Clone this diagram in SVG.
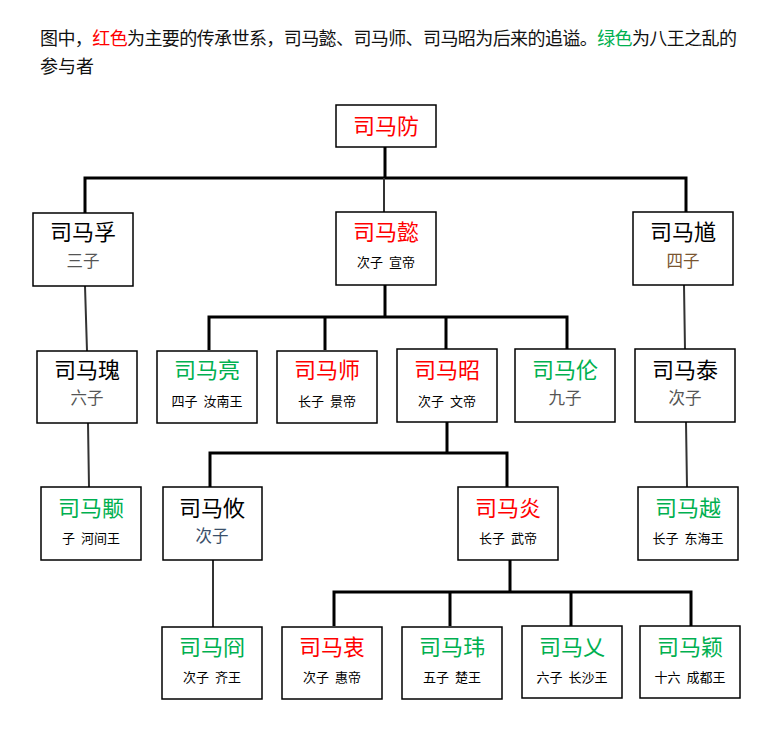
<svg xmlns="http://www.w3.org/2000/svg" width="770" height="730" viewBox="0 0 770 730">
<style>
text{font-family:"Noto Sans CJK SC","Noto Sans",sans-serif;text-anchor:middle}
.hd{font-size:18px;text-anchor:start;fill:#111}
.box{fill:#fff;stroke:#000;stroke-width:1.5}
.nm{font-size:22px}
.red{fill:#ff0000}
.grn{fill:#00b050}
.blk{fill:#000}
.sub{font-size:13px;fill:#000}
.sub2{font-size:16.5px;fill:#555}
.thick{stroke:#000;stroke-width:3;fill:none}
.thin{stroke:#333;stroke-width:2;fill:none}
</style>
<text class="hd" x="40" y="45" textLength="697" lengthAdjust="spacing">图中，<tspan class="red">红色</tspan>为主要的传承世系，司马懿、司马师、司马昭为后来的追谥。<tspan class="grn">绿色</tspan>为八王之乱的</text>
<text class="hd" x="40" y="73">参与者</text>
<g id="connectors">
<path class="thick" d="M385 147V178M85 213V178H686V212"/>
<path class="thin" d="M384 178V212"/>
<path class="thick" d="M385 285V317M209 350V317H567V350M325 317V350M446 317V350"/>
<path class="thin" d="M85 286L87 351M684 285L685 350"/>
<path class="thick" d="M447 422V453M210 487V453H507V487"/>
<path class="thin" d="M88 423L89 487M686 422L687 487"/>
<path class="thick" d="M510 560V592M334 626V592H691V626M450 592V626M571 592V626"/>
<path class="thin" d="M213 560V627"/>
</g>
<g id="n-fang"><rect class="box" x="336" y="105" width="100" height="42"/><text class="nm red" x="386" y="134">司马防</text></g>
<g id="n-fu"><rect class="box" x="33" y="213" width="100" height="73"/><text class="nm blk" x="83" y="240">司马孚</text><text class="sub2" x="83" y="267">三子</text></g>
<g id="n-yi"><rect class="box" x="336" y="212" width="100" height="73"/><text class="nm red" x="386" y="240">司马懿</text><text class="sub" x="386" y="267">次子&#160;&#160;宣帝</text></g>
<g id="n-kui"><rect class="box" x="633" y="212" width="100" height="73"/><text class="nm blk" x="683" y="240">司马馗</text><text class="sub2" x="683" y="267" style="fill:#7a5530">四子</text></g>
<g id="n-gui"><rect class="box" x="37" y="351" width="100" height="72"/><text class="nm blk" x="87" y="378">司马瑰</text><text class="sub2" x="87" y="404">六子</text></g>
<g id="n-liang"><rect class="box" x="157" y="351" width="100" height="72"/><text class="nm grn" x="207" y="378">司马亮</text><text class="sub" x="207" y="406">四子&#160;&#160;汝南王</text></g>
<g id="n-shi"><rect class="box" x="277" y="351" width="100" height="72"/><text class="nm red" x="327" y="378">司马师</text><text class="sub" x="327" y="406">长子&#160;&#160;景帝</text></g>
<g id="n-zhao"><rect class="box" x="397" y="349" width="100" height="73"/><text class="nm red" x="447" y="378">司马昭</text><text class="sub" x="447" y="406">次子&#160;&#160;文帝</text></g>
<g id="n-lun"><rect class="box" x="515" y="349" width="100" height="73"/><text class="nm grn" x="565" y="378">司马伦</text><text class="sub2" x="565" y="404">九子</text></g>
<g id="n-tai"><rect class="box" x="635" y="349" width="100" height="73"/><text class="nm blk" x="685" y="378">司马泰</text><text class="sub2" x="685" y="404">次子</text></g>
<g id="n-yong"><rect class="box" x="41" y="487" width="100" height="73"/><text class="nm grn" x="91" y="516">司马颙</text><text class="sub" x="91" y="543">子&#160;&#160;河间王</text></g>
<g id="n-you"><rect class="box" x="163" y="487" width="99" height="73"/><text class="nm blk" x="212" y="516">司马攸</text><text class="sub2" x="212" y="542" style="fill:#3a4f6a">次子</text></g>
<g id="n-yan"><rect class="box" x="458" y="487" width="100" height="73"/><text class="nm red" x="508" y="516">司马炎</text><text class="sub" x="508" y="543">长子&#160;&#160;武帝</text></g>
<g id="n-yue"><rect class="box" x="638" y="487" width="100" height="73"/><text class="nm grn" x="688" y="516">司马越</text><text class="sub" x="688" y="543">长子&#160;&#160;东海王</text></g>
<g id="n-jiong"><rect class="box" x="162" y="627" width="100" height="72"/><text class="nm grn" x="212" y="655">司马冏</text><text class="sub" x="212" y="682">次子&#160;&#160;齐王</text></g>
<g id="n-zhong"><rect class="box" x="282" y="627" width="100" height="72"/><text class="nm red" x="332" y="655">司马衷</text><text class="sub" x="332" y="682">次子&#160;&#160;惠帝</text></g>
<g id="n-wei"><rect class="box" x="402" y="627" width="100" height="72"/><text class="nm grn" x="452" y="655">司马玮</text><text class="sub" x="452" y="682">五子&#160;&#160;楚王</text></g>
<g id="n-ai"><rect class="box" x="522" y="626" width="100" height="72"/><text class="nm grn" x="572" y="655">司马乂</text><text class="sub" x="572" y="682">六子&#160;&#160;长沙王</text></g>
<g id="n-ying"><rect class="box" x="640" y="626" width="100" height="72"/><text class="nm grn" x="690" y="655">司马颖</text><text class="sub" x="690" y="682">十六&#160;&#160;成都王</text></g>
</svg>
